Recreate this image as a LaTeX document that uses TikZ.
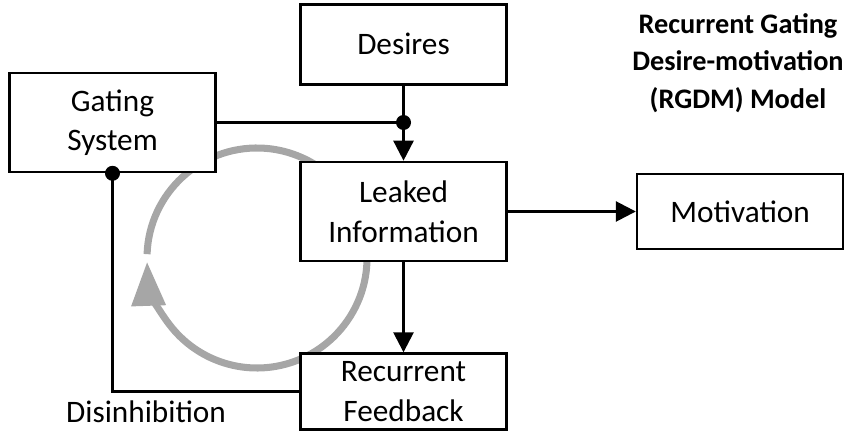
\documentclass[tikz,border=0pt]{standalone}
\usepackage{fontspec}
\setmainfont{Carlito}
\usetikzlibrary{positioning,arrows.meta,backgrounds}

\begin{document}
\begin{tikzpicture}

	\tikzstyle{every node}=[font=\fontsize{17.8}{22.5}\selectfont]
	\tikzstyle{block}=[rectangle,draw=black,fill=white,line width=1.5pt,align=center,minimum width=4.12cm]
	\tikzstyle{conn}=[line width=1.5pt,-{Triangle[length=0.4cm,width=0.4cm]}]
	\tikzstyle{dot}=[circle,fill=black,inner sep=0pt,minimum size=0.3cm]

	\useasboundingbox (0,0) rectangle (16.92,8.64);

	\node[block, minimum height=1.98cm] (leaked) at (8.07,4.41) {Leaked\\Information};
	\node[block, minimum height=1.6cm, above=1.5cm of leaked] (desires) {Desires};
	\node[block, minimum height=1.98cm] (gating) at (2.25,6.19) {Gating\\System};
	\node[block, minimum height=1.5cm, right=2.56cm of leaked] (motivation) {Motivation};
	\node[block, minimum height=1.52cm, below=1.8cm of leaked] (recurrent) {Recurrent\\Feedback};

	\node[font=\fontsize{16.1}{21.5}\selectfont\bfseries, align=center] (title) at (14.76,7.38) {Recurrent Gating\\Desire-motivation\\(RGDM) Model};

	% recurrent loop, behind the boxes
	\begin{pgfonlayer}{background}
		\coordinate (loop) at (5.14,3.48);
		\draw[gray!70, line width=4pt, -{Triangle[length=0.88cm,width=0.66cm]}] (loop) ++(10:2.2) arc[start angle=10, end angle=-178, radius=2.2];
		\draw[gray!70, line width=4pt] (loop) ++(178:2.2) arc[start angle=178, end angle=50, radius=2.2];
	\end{pgfonlayer}

	\coordinate (gate) at (desires.south |- gating.east);
	\draw[conn] (desires.south) -- (leaked.north);
	\draw[line width=1.5pt] (gating.east) -- (gate);
	\node[dot] (gatedot) at (gate) {};

	\draw[conn] (leaked.east) -- (leaked.east -| motivation.west);
	\draw[conn] (leaked.south) -- (recurrent.north);

	\draw[line width=1.5pt] (recurrent.west) -| node[below=1pt, pos=0.41] (disinh) {Disinhibition} (gating.south);
	\node[dot] (gatingdot) at (gating.south) {};

\end{tikzpicture}
\end{document}
